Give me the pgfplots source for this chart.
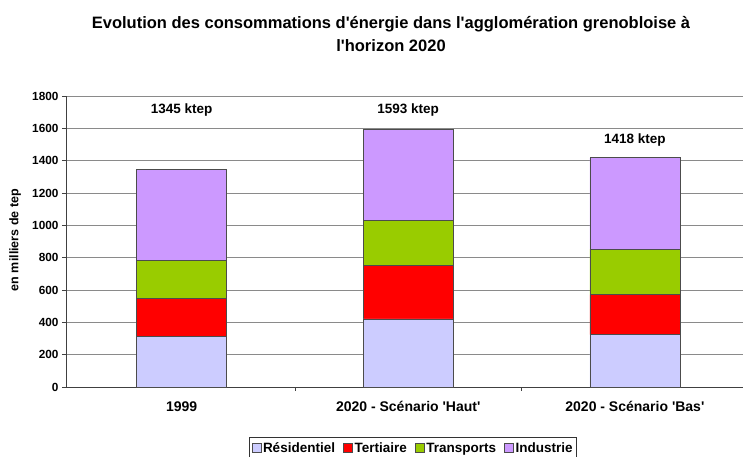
\documentclass[border=0pt]{standalone}
\usepackage{fontspec}
\setmainfont{Liberation Sans}
\usepackage{pgfplots}
\pgfplotsset{compat=1.18}
\definecolor{cres}{HTML}{CCCCFF}
\definecolor{cter}{HTML}{FF0000}
\definecolor{ctra}{HTML}{99CC00}
\definecolor{cind}{HTML}{CC99FF}
\definecolor{gridc}{HTML}{8A8A8A}
\newcommand{\q}{\textquotesingle}
\begin{document}
\begin{tikzpicture}[x=1pt,y=1pt]
\path[use as bounding box] (0,0) rectangle (743,457);
\node[font=\bfseries\fontsize{16.5}{23}\selectfont,align=center] at (391,423) {Evolution des consommations d\q énergie dans l\q agglomération grenobloise à\\l\q horizon 2020};
\begin{axis}[
  at={(66pt,70pt)}, anchor=south west,
  scale only axis, width=677pt, height=291pt,
  ybar stacked, bar width=90pt,
  xmin=-0.51, xmax=2.477,
  ymin=0, ymax=1800,
  ytick={0,200,...,1800},
  /pgf/number format/1000 sep={},
  /pgf/number format/assume math mode=true,
  axis x line*=bottom, axis y line*=left,
  axis line style={black!75, line width=0.8pt},
  ymajorgrids, grid style={gridc, line width=0.8pt},
  tick align=outside,
  major tick length=4pt,
  tick style={black!75, line width=0.8pt},
  yticklabel style={font=\bfseries\fontsize{11.8}{13}\selectfont, xshift=0pt},
  xtick={0.5,1.5}, xticklabels={},
  extra x ticks={0,1,2},
  extra x tick labels={1999, 2020 - Scénario \q Haut\q, 2020 - Scénario \q Bas\q},
  extra x tick style={major tick length=0pt, tick label style={font=\bfseries\fontsize{14}{16}\selectfont, yshift=-11pt}},
  ylabel={en milliers de tep},
  every axis y label/.style={at={(axis description cs:-0.0753,0.505)}, rotate=90, anchor=center, font=\bfseries\fontsize{12.5}{14}\selectfont},
  legend columns=4,
  legend style={at={(axis description cs:0.5126,-0.172)}, anchor=north, draw=black!80, line width=0.8pt,
    font=\bfseries\fontsize{13.5}{15}\selectfont, inner xsep=2pt, inner ysep=3pt,
    /tikz/every even column/.append style={column sep=6pt}},
  legend image code/.code={\draw[#1, line width=0.5pt, draw=black!70] (0pt,-4pt) rectangle (9pt,5pt);},
  every axis plot/.append style={draw=black!70, line width=0.7pt},
  clip=false,
]
\addplot[fill=cres] coordinates {(0,313) (1,421) (2,324)};
\addplot[fill=cter] coordinates {(0,237) (1,329) (2,246)};
\addplot[fill=ctra] coordinates {(0,231) (1,282) (2,283)};
\addplot[fill=cind] coordinates {(0,564) (1,561) (2,565)};
\legend{Résidentiel, Tertiaire, Transports, Industrie}
\node[font=\bfseries\fontsize{13.5}{15}\selectfont] at (axis cs:0,1715) {1345 ktep};
\node[font=\bfseries\fontsize{13.5}{15}\selectfont] at (axis cs:1,1715) {1593 ktep};
\node[font=\bfseries\fontsize{13.5}{15}\selectfont] at (axis cs:2,1530) {1418 ktep};
\end{axis}
\end{tikzpicture}
\end{document}
